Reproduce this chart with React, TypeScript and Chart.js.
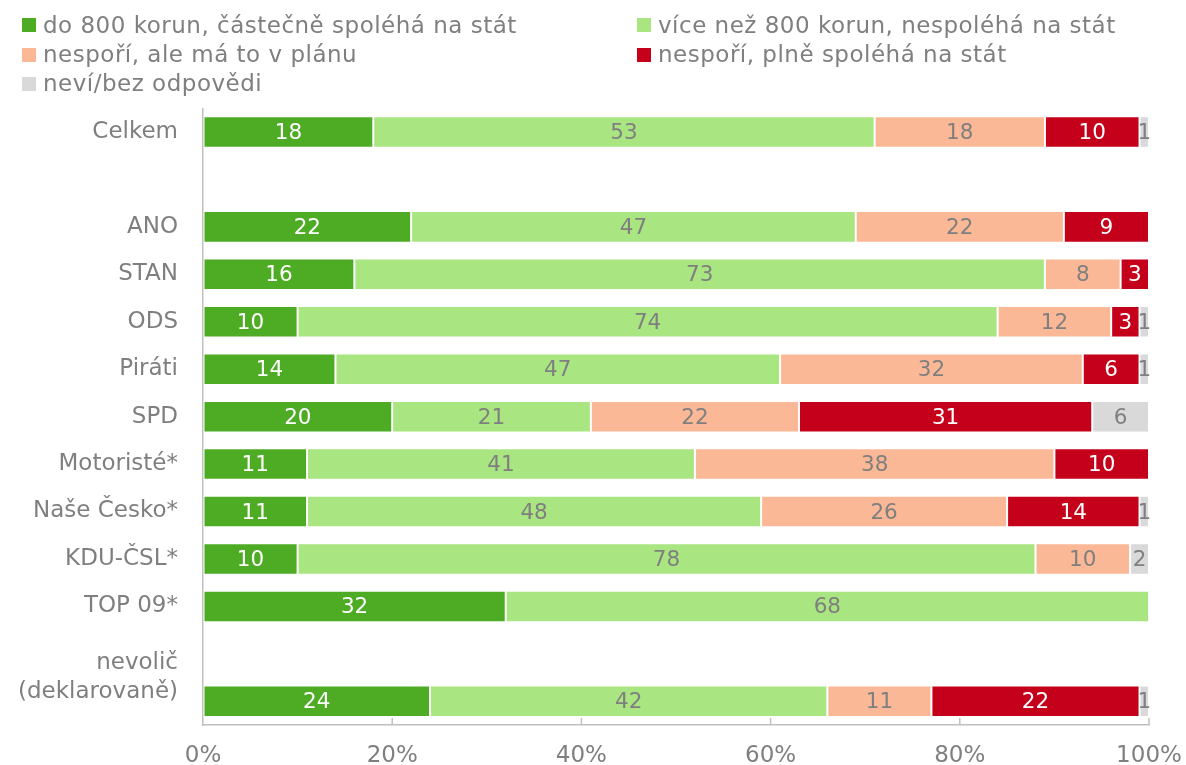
import React, { useEffect, useRef } from "react";
import { Chart, registerables } from "chart.js";

Chart.register(...registerables);

const categories: (string | string[])[] = [
  "Celkem",
  "",
  "ANO",
  "STAN",
  "ODS",
  "Piráti",
  "SPD",
  "Motoristé*",
  "Naše Česko*",
  "KDU-ČSL*",
  "TOP 09*",
  ["", "nevolič"],
  ["(deklarovaně)", ""],
];

const seriesNames = [
  "do 800 korun, částečně spoléhá na stát",
  "více než 800 korun, nespoléhá na stát",
  "nespoří, ale má to v plánu",
  "nespoří, plně spoléhá na stát",
  "neví/bez odpovědi",
];

const doOsmiSet = [18, null, 22, 16, 10, 14, 20, 11, 11, 10, 32, null, 24];
const viceNezOsmiSet = [53, null, 47, 73, 74, 47, 21, 41, 48, 78, 68, null, 42];
const nesporiPlan = [18, null, 22, 8, 12, 32, 22, 38, 26, 10, 0, null, 11];
const nesporiStat = [10, null, 9, 3, 3, 6, 31, 10, 14, 0, 0, null, 22];
const neviBez = [1, null, 0, 0, 1, 1, 6, 0, 1, 2, 0, null, 1];

const xTicks = [0, 20, 40, 60, 80, 100];

const colors = ["#4EAC24", "#A9E580", "#FBB896", "#C5001A", "#D9D9D9"];
const labelColors = ["#FFFFFF", "#7F7F7F", "#7F7F7F", "#FFFFFF", "#7F7F7F"];
const textGray = "#7F7F7F";
const axisGray = "#BFBFBF";

const W = 1186;
const H = 765;
const CANVAS_H = 787;

const legendLayout = [
  { col: 0, row: 0 },
  { col: 1, row: 0 },
  { col: 0, row: 1 },
  { col: 1, row: 1 },
  { col: 0, row: 2 },
];
const legendColX = [22, 637];
const legendRowY = [10.7, 40, 69.3];

const dataLabelPlugin = {
  id: "dataLabels",
  afterDatasetsDraw(chart: any) {
    const ctx = chart.ctx;
    ctx.save();
    ctx.font = "21.5px 'DejaVu Sans'";
    ctx.textAlign = "center";
    ctx.textBaseline = "middle";
    chart.data.datasets.forEach((ds: any, di: number) => {
      const meta = chart.getDatasetMeta(di);
      meta.data.forEach((el: any, i: number) => {
        const v = ds.data[i];
        if (!v) return;
        ctx.fillStyle = labelColors[di];
        ctx.fillText(String(v), (el.x + el.base) / 2, el.y + 1.5);
      });
    });
    ctx.restore();
  },
};

const tickMarkPlugin = {
  id: "innerTicks",
  afterDraw(chart: any) {
    const ctx = chart.ctx;
    const xs = chart.scales.x;
    const bottom = chart.chartArea.bottom;
    ctx.save();
    ctx.strokeStyle = axisGray;
    ctx.lineWidth = 1.5;
    xTicks.forEach((v) => {
      if (v === 0) return;
      const px = xs.getPixelForValue(v);
      ctx.beginPath();
      ctx.moveTo(px, bottom - 7);
      ctx.lineTo(px, bottom);
      ctx.stroke();
    });
    ctx.restore();
  },
};

export default function App() {
  const ref = useRef<HTMLCanvasElement | null>(null);

  useEffect(() => {
    if (!ref.current) return;
    const seriesData = [doOsmiSet, viceNezOsmiSet, nesporiPlan, nesporiStat, neviBez];
    const chart = new Chart(ref.current, {
      type: "bar",
      data: {
        labels: categories as any,
        datasets: seriesData.map((d, i) => ({
          label: seriesNames[i],
          data: d as any,
          backgroundColor: colors[i],
          borderColor: "rgba(255,255,255,0.45)",
          borderWidth: (c: any) => (c.raw ? 1 : 0),
          borderSkipped: false,
          barPercentage: 0.665,
          categoryPercentage: 1,
        })),
      },
      options: {
        indexAxis: "y",
        responsive: false,
        animation: false,
        layout: { padding: { top: 108.3, right: 37, bottom: 0, left: 0 } },
        plugins: {
          legend: { display: false },
          tooltip: { enabled: false },
        },
        scales: {
          x: {
            stacked: true,
            min: 0,
            max: 100,
            afterBuildTicks: (scale: any) => {
              scale.ticks = xTicks.map((v) => ({ value: v }));
            },
            afterFit: (scale: any) => {
              scale.paddingLeft = 0;
              scale.paddingRight = 0;
            },
            ticks: {
              callback: (v: any) => v + "%",
              color: textGray,
              font: { family: "DejaVu Sans", size: 23, lineHeight: 1 },
              padding: 19.5,
              maxRotation: 0,
            },
            grid: { drawOnChartArea: false, drawTicks: false },
            border: { color: axisGray, width: 1.5 },
          },
          y: {
            stacked: true,
            afterFit: (scale: any) => {
              scale.width = 203;
              scale.paddingTop = 0;
              scale.paddingBottom = 0;
            },
            ticks: {
              color: textGray,
              font: { family: "DejaVu Sans", size: 23, lineHeight: "18px" },
              padding: 25,
              autoSkip: false,
            },
            grid: { drawOnChartArea: false, drawTicks: false },
            border: { color: axisGray, width: 1.5 },
          },
        },
      },
      plugins: [dataLabelPlugin, tickMarkPlugin],
    });
    return () => chart.destroy();
  }, []);

  return (
    <div
      style={{
        position: "absolute",
        left: 0,
        top: 0,
        width: W,
        height: H,
        background: "#fff",
        overflow: "hidden",
      }}
    >
      <canvas ref={ref} width={W} height={CANVAS_H} style={{ position: "absolute", left: 0, top: 0 }} />
      {seriesNames.map((name, i) => (
        <div
          key={name}
          style={{
            position: "absolute",
            left: legendColX[legendLayout[i].col],
            top: legendRowY[legendLayout[i].row],
            height: 29.3,
            lineHeight: "29.3px",
            display: "flex",
            alignItems: "center",
            fontFamily: "'DejaVu Sans'",
            fontSize: 23,
            letterSpacing: "0.5px",
            color: textGray,
            whiteSpace: "nowrap",
          }}
        >
          <span
            style={{
              display: "inline-block",
              width: 14,
              height: 14,
              background: colors[i],
              marginRight: 7,
            }}
          />
          <span>{name}</span>
        </div>
      ))}
    </div>
  );
}
